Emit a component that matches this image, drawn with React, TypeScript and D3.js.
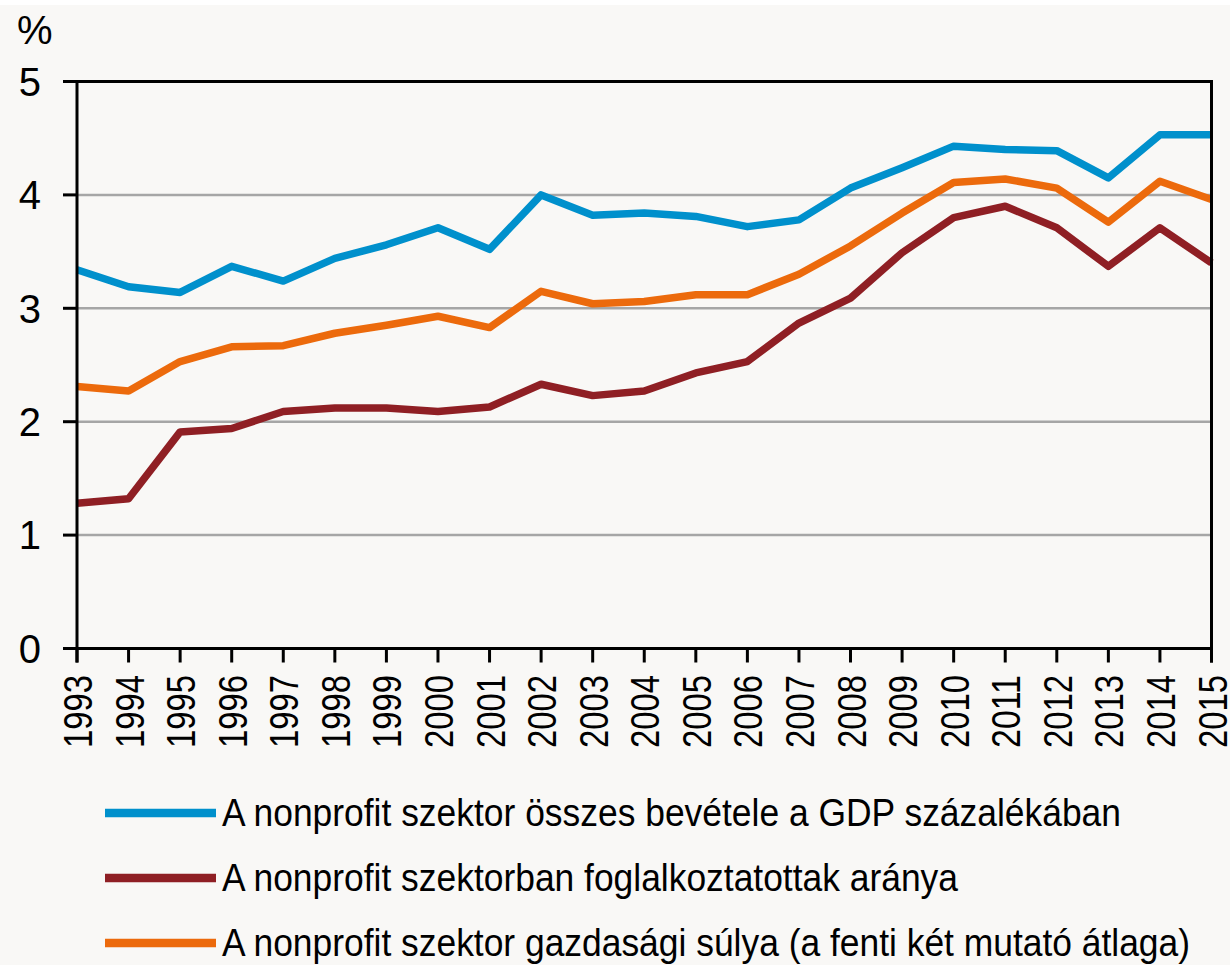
import React, { useEffect } from "react";
import * as d3 from "d3";

const years = ["1993","1994","1995","1996","1997","1998","1999","2000","2001","2002","2003","2004","2005","2006","2007","2008","2009","2010","2011","2012","2013","2014","2015"];
const revenueGdp = [3.34,3.19,3.14,3.37,3.24,3.44,3.56,3.71,3.52,4.00,3.82,3.84,3.81,3.72,3.78,4.06,4.24,4.43,4.40,4.39,4.15,4.53,4.53];
const employmentShare = [1.28,1.32,1.91,1.94,2.09,2.12,2.12,2.09,2.13,2.33,2.23,2.27,2.43,2.53,2.87,3.09,3.49,3.80,3.90,3.71,3.37,3.71,3.40];
const economicWeight = [2.31,2.27,2.53,2.66,2.67,2.78,2.85,2.93,2.83,3.15,3.04,3.06,3.12,3.12,3.30,3.55,3.84,4.11,4.14,4.06,3.76,4.12,3.96];
const yTicks = [0,1,2,3,4,5];
const seriesNames = [
  "A nonprofit szektor összes bevétele a GDP százalékában",
  "A nonprofit szektorban foglalkoztatottak aránya",
  "A nonprofit szektor gazdasági súlya (a fenti két mutató átlaga)",
];
const seriesColors = ["#0090cc", "#8f1f24", "#ec6a0c"];
const legendWidths = [899, 736, 968];

const FONT = "'Liberation Sans', Arial, sans-serif";

export default function App() {
  useEffect(() => {
    document.body.style.margin = "0";
  }, []);
  const W = 1230, H = 965;
  const x0 = 77, x1 = 1211.5, y0 = 648.5, y1 = 81.5;
  const x = d3.scalePoint<string>().domain(years).range([x0, x1]);
  const y = d3.scaleLinear().domain([0, 5]).range([y0, y1]);
  const line = d3.line<number>()
    .x((_, i) => x(years[i]) as number)
    .y((d) => y(d));
  const series = [revenueGdp, employmentShare, economicWeight];
  return (
    <svg width={W} height={H} style={{ display: "block" }} fontFamily={FONT}>
      <rect x={0} y={0} width={W} height={H} fill="#ffffff" />
      <rect x={0} y={5} width={W} height={H - 5} fill="#f9f8f6" />
      {yTicks.filter((t) => t > 0 && t < 5).map((t) => (
        <line key={"g" + t} x1={x0} x2={x1} y1={y(t)} y2={y(t)} stroke="#a6a6a6" strokeWidth={2.5} />
      ))}
      {series.map((s, si) => (
        <path key={"s" + si} d={line(s) || ""} fill="none" stroke={seriesColors[si]} strokeWidth={7.5} strokeLinejoin="round" />
      ))}
      <line x1={63} x2={x1 + 1.5} y1={y1} y2={y1} stroke="#000" strokeWidth={3} />
      <line x1={x1} x2={x1} y1={y1} y2={662.5} stroke="#000" strokeWidth={3} />
      <line x1={x0} x2={x0} y1={y1} y2={662.5} stroke="#000" strokeWidth={3} />
      <line x1={63} x2={x1 + 1.5} y1={y0} y2={y0} stroke="#000" strokeWidth={3} />
      {yTicks.map((t) => (
        <g key={"yt" + t}>
          <line x1={63} x2={x0} y1={y(t)} y2={y(t)} stroke="#000" strokeWidth={3} />
          <text x={41} y={y(t) + 14.3} textAnchor="end" fontSize={40} fill="#000">{t}</text>
        </g>
      ))}
      <text x={17} y={43.7} fontSize={40} fill="#000">%</text>
      {years.map((yr) => {
        const px = x(yr) as number;
        return (
          <g key={"xt" + yr}>
            <line x1={px} x2={px} y1={y0} y2={662.5} stroke="#000" strokeWidth={3} />
            <text transform={`translate(${px + 15},675) rotate(-90)`} textAnchor="end" fontSize={40} fill="#000" textLength={73} lengthAdjust="spacingAndGlyphs">{yr}</text>
          </g>
        );
      })}
      {seriesNames.map((name, i) => {
        const ly = 813 + i * 65;
        return (
          <g key={"lg" + i}>
            <line x1={105} x2={216} y1={ly} y2={ly} stroke={seriesColors[i]} strokeWidth={8.5} />
            <text x={222} y={ly + 13} fontSize={38} fill="#000" textLength={legendWidths[i]} lengthAdjust="spacingAndGlyphs">{name}</text>
          </g>
        );
      })}
    </svg>
  );
}
